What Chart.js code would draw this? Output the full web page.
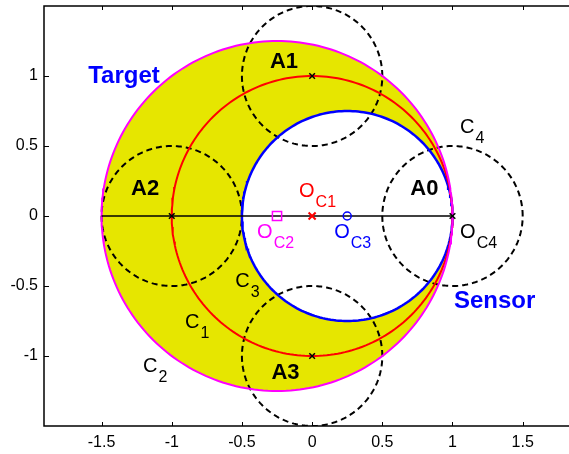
<!DOCTYPE html>
<html lang="en">
<head>
    <meta charset="UTF-8">
    <title>Target / Sensor circles</title>
    <script src="https://cdn.jsdelivr.net/npm/chart.js"></script>
    <style>
        html, body { margin: 0; padding: 0; background: #fff; }
        #wrap { width: 569px; height: 454px; position: relative; }
    </style>
</head>
<body>
    <div id="wrap"><canvas id="circleChart"></canvas></div>
    <script>
        // circles: C2 target, C1, C3 sensor, C4, A1, A2, A3
        const circleNames = ['C2', 'C1', 'C3', 'C4', 'A1', 'A2', 'A3'];
        const circleCx = [-0.25, 0, 0.25, 1, 0, -1, 0];
        const circleCy = [0, 0, 0, 0, 1, 0, -1];
        const circleR = [1.25, 1, 0.75, 0.5, 0.5, 0.5, 0.5];

        // black x marks at the A circle centres
        const crossX = [0, -1, 0, 1];
        const crossY = [1, 0, -1, 0];
        // circle centres O_C1, O_C2, O_C3
        const oc1 = [0, 0];
        const oc2 = [-0.25, 0];
        const oc3 = [0.25, 0];
        // horizontal diameter line
        const lineX = [-1.5, 1];
        const lineY = [0, 0];

        const xTicks = [-1.5, -1, -0.5, 0, 0.5, 1, 1.5];
        const yTicks = [-1, -0.5, 0, 0.5, 1];

        // text labels: [text, subscript, x, y, colour, bold size]
        const labels = [
            ['Target', '', -1.34, 1.0, '#0000ff', 24],
            ['Sensor', '', 1.30, -0.61, '#0000ff', 24],
            ['A1', '', -0.20, 1.10, '#000', 22],
            ['A2', '', -1.19, 0.19, '#000', 22],
            ['A3', '', -0.19, -1.12, '#000', 22],
            ['A0', '', 0.80, 0.19, '#000', 22],
            ['O', 'C1', -0.093, 0.175, '#ff0000', 0],
            ['O', 'C2', -0.392, -0.118, '#ff00ff', 0],
            ['O', 'C3', 0.157, -0.118, '#0000ff', 0],
            ['O', 'C4', 1.054, -0.118, '#000', 0],
            ['C', '4', 1.054, 0.632, '#000', 0],
            ['C', '3', -0.548, -0.468, '#000', 0],
            ['C', '1', -0.905, -0.76, '#000', 0],
            ['C', '2', -1.204, -1.075, '#000', 0]
        ];

        function circlePoints(i) {
            const pts = [];
            const n = 240;
            for (let k = 0; k <= n; k++) {
                const a = 2 * Math.PI * k / n;
                pts.push({ x: circleCx[i] + circleR[i] * Math.cos(a), y: circleCy[i] + circleR[i] * Math.sin(a) });
            }
            return pts;
        }

        const circleStyle = {
            C2: { color: '#ff00ff', width: 2, dash: [], fill: 'rgb(230,230,0)' },
            C1: { color: '#ff0000', width: 2, dash: [], fill: null },
            C3: { color: '#0000ff', width: 2.5, dash: [], fill: '#ffffff' },
            C4: { color: '#000', width: 2, dash: [6, 4], fill: null },
            A1: { color: '#000', width: 2, dash: [6, 4], fill: null },
            A2: { color: '#000', width: 2, dash: [6, 4], fill: null },
            A3: { color: '#000', width: 2, dash: [6, 4], fill: null }
        };

        const datasets = circleNames.map((name, i) => ({
            label: name,
            data: circlePoints(i),
            showLine: true,
            borderColor: circleStyle[name].color,
            borderWidth: circleStyle[name].width,
            borderDash: circleStyle[name].dash,
            pointRadius: 0,
            fill: false,
            shapeFill: circleStyle[name].fill,
            order: 10
        }));

        datasets.push({
            label: 'diameter',
            data: lineX.map((x, i) => ({ x: x, y: lineY[i] })),
            showLine: true, borderColor: '#000', borderWidth: 1.5, pointRadius: 0, order: 5
        });
        datasets.push({
            label: 'A centres',
            data: crossX.map((x, i) => ({ x: x, y: crossY[i] })),
            showLine: false, pointStyle: 'crossRot', pointRadius: 4, borderColor: '#000', borderWidth: 1.5, order: 1
        });
        datasets.push({
            label: 'O_C1', data: [{ x: oc1[0], y: oc1[1] }], showLine: false,
            pointStyle: 'crossRot', pointRadius: 5, borderColor: '#ff0000', borderWidth: 2, order: 1
        });
        datasets.push({
            label: 'O_C2', data: [{ x: oc2[0], y: oc2[1] }], showLine: false,
            pointStyle: 'rect', pointRadius: 6.5, borderColor: '#ff00ff', backgroundColor: 'rgba(0,0,0,0)', borderWidth: 1.5, order: 1
        });
        datasets.push({
            label: 'O_C3', data: [{ x: oc3[0], y: oc3[1] }], showLine: false,
            pointStyle: 'circle', pointRadius: 4, borderColor: '#0000ff', backgroundColor: 'rgba(0,0,0,0)', borderWidth: 1.5, order: 1
        });

        // fill the target circle yellow and the sensor circle white, under all lines
        const shapeFillPlugin = {
            id: 'shapeFill',
            beforeDatasetsDraw(chart) {
                const ctx = chart.ctx;
                const area = chart.chartArea;
                ctx.save();
                ctx.beginPath();
                ctx.rect(area.left, area.top, area.right - area.left, area.bottom - area.top);
                ctx.clip();
                chart.data.datasets.forEach((ds, i) => {
                    if (!ds.shapeFill) return;
                    const pts = chart.getDatasetMeta(i).data;
                    ctx.beginPath();
                    pts.forEach((p, k) => k ? ctx.lineTo(p.x, p.y) : ctx.moveTo(p.x, p.y));
                    ctx.closePath();
                    ctx.fillStyle = ds.shapeFill;
                    ctx.fill();
                });
                ctx.restore();
            }
        };

        // MATLAB style box with inward ticks, plus text labels
        const decorPlugin = {
            id: 'decor',
            afterDatasetsDraw(chart) {
                const ctx = chart.ctx;
                const xs = chart.scales.x, ys = chart.scales.y;
                const a = chart.chartArea;
                ctx.save();
                ctx.strokeStyle = '#000';
                ctx.lineWidth = 1.5;
                ctx.beginPath();
                ctx.moveTo(a.right + 5, a.top);
                ctx.lineTo(a.left, a.top);
                ctx.lineTo(a.left, a.bottom);
                ctx.lineTo(a.right + 5, a.bottom);
                ctx.stroke();
                ctx.lineWidth = 1;
                ctx.beginPath();
                xTicks.forEach(v => {
                    const px = Math.round(xs.getPixelForValue(v)) + 0.5;
                    ctx.moveTo(px, a.bottom); ctx.lineTo(px, a.bottom - 4);
                    ctx.moveTo(px, a.top); ctx.lineTo(px, a.top + 4);
                });
                yTicks.forEach(v => {
                    const py = Math.round(ys.getPixelForValue(v)) + 0.5;
                    ctx.moveTo(a.left, py); ctx.lineTo(a.left + 5, py);
                });
                ctx.stroke();

                labels.forEach(l => {
                    const [text, sub, x, y, color, bold] = l;
                    const px = xs.getPixelForValue(x);
                    const py = ys.getPixelForValue(y);
                    ctx.fillStyle = color;
                    ctx.textBaseline = 'middle';
                    if (bold) {
                        ctx.font = 'bold ' + bold + 'px "Liberation Sans", Arial, sans-serif';
                        ctx.textAlign = 'center';
                        ctx.fillText(text, px, py);
                    } else {
                        ctx.textAlign = 'left';
                        ctx.font = '20px "Liberation Sans", Arial, sans-serif';
                        ctx.fillText(text, px, py);
                        const w = ctx.measureText(text).width;
                        ctx.font = '16px "Liberation Sans", Arial, sans-serif';
                        ctx.fillText(sub, px + w + 1, py + 11);
                    }
                });
                ctx.restore();
            }
        };

        const tickFont = { family: '"Liberation Sans", Arial, sans-serif', size: 16 };
        const plainLabel = v => String(v);

        new Chart(document.getElementById('circleChart').getContext('2d'), {
            type: 'scatter',
            data: { datasets: datasets },
            options: {
                responsive: true,
                maintainAspectRatio: false,
                animation: false,
                events: [],
                layout: { autoPadding: false, padding: { top: 6, right: 0, left: 0, bottom: 0 } },
                plugins: { legend: { display: false }, tooltip: { enabled: false } },
                elements: { line: { tension: 0 } },
                scales: {
                    x: {
                        type: 'linear', min: -1.91, max: 1.83,
                        afterBuildTicks: s => { s.ticks = xTicks.map(v => ({ value: v })); },
                        afterFit: s => { s.height = 28; s.paddingLeft = 0; s.paddingRight = 0; },
                        grid: { display: false, drawTicks: false },
                        border: { display: false },
                        ticks: { color: '#000', font: tickFont, padding: 7, maxRotation: 0, callback: plainLabel }
                    },
                    y: {
                        type: 'linear', min: -1.5, max: 1.5,
                        afterBuildTicks: s => { s.ticks = yTicks.map(v => ({ value: v })); },
                        afterFit: s => { s.width = 44; s.paddingTop = 0; s.paddingBottom = 0; },
                        grid: { display: false, drawTicks: false },
                        border: { display: false },
                        ticks: { color: '#000', font: tickFont, padding: 6, callback: plainLabel }
                    }
                }
            },
            plugins: [shapeFillPlugin, decorPlugin]
        });
    </script>
</body>
</html>
